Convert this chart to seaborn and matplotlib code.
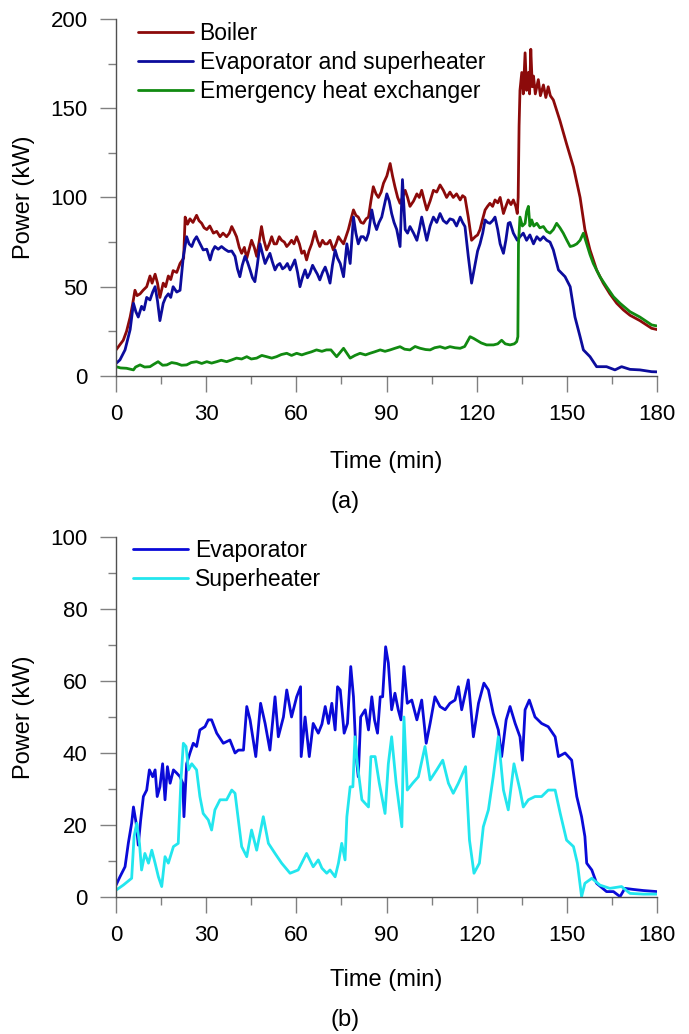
import pandas as pd
import seaborn as sns
import matplotlib.pyplot as plt
from matplotlib.ticker import MultipleLocator

## A. (time in min, power in kW)
boiler = [
    (0, 14.6), (2.4, 20), (3.5, 25), (4.7, 33), (5.5, 40), (6.3, 48), (7, 45), (8, 46), (9, 48),
    (10.2, 50), (11.3, 56), (12, 52), (13, 57), (13.8, 52), (14.6, 44), (15.7, 52), (16.5, 50),
    (17.4, 56), (18.2, 54), (19, 59), (20.2, 58), (21.3, 63), (22.5, 66), (23, 89), (23.8, 85),
    (24.6, 88), (25.6, 86), (26.8, 90), (27.6, 87), (28.5, 85.5), (29.3, 83), (30.2, 82),
    (31.2, 84), (32.4, 80), (33.5, 81), (34.6, 78), (35.6, 80), (36.8, 78), (37.7, 80),
    (38.5, 83.7), (39.3, 81), (40.1, 78), (41, 72), (41.8, 68.7), (42.7, 72), (43.5, 66),
    (44.3, 71), (45.1, 76), (46, 72), (46.8, 67), (47.6, 75), (48.4, 83.7), (49.2, 76),
    (50.1, 70.6), (51, 74), (51.8, 78), (52.6, 74), (53.4, 74), (54.3, 78), (55.1, 76), (56, 75),
    (56.8, 72.5), (57.6, 74), (58.4, 76), (59.2, 74), (60.1, 78), (61, 74), (61.8, 68.7),
    (62.6, 70), (63.4, 65), (64.2, 70), (65.1, 74), (66.2, 81), (67, 76), (67.8, 72.5),
    (68.7, 76), (69.5, 74), (70.3, 74), (71.2, 76), (72.3, 70.6), (73.2, 74), (74, 78),
    (74.8, 76), (75.7, 74), (76.5, 78), (77.3, 82), (78.2, 88), (79, 93), (79.8, 90), (80.6, 89),
    (81.5, 86), (82.3, 85.5), (83.2, 88), (84, 89), (84.8, 98), (85.6, 106), (86.5, 102),
    (87.3, 100), (88.2, 103), (89, 108), (90.1, 112), (91.2, 119), (92, 112), (92.8, 106),
    (93.7, 100), (94.5, 96.7), (95.3, 100), (96.2, 104), (97, 100), (97.8, 95), (99, 98),
    (100.1, 102), (100.9, 100), (101.7, 104), (102.6, 98), (103.4, 93), (104.5, 98),
    (105.6, 104), (106.7, 103), (107.8, 107), (108.9, 104), (110, 100), (111.1, 103),
    (112.2, 100), (113.3, 102), (114.5, 98.6), (115.3, 101), (116.1, 100), (117.2, 89),
    (118.3, 76), (119.5, 78), (120.3, 79), (121.1, 82), (122, 88), (122.8, 93), (123.6, 95),
    (124.4, 96.7), (125.3, 95), (126.1, 98.6), (127, 97), (127.8, 100), (128.9, 91),
    (129.7, 95), (130.5, 98.6), (131.4, 96), (132.2, 98.6), (133, 95), (133.5, 91),
    (133.8, 100), (134.1, 140), (134.4, 160), (135, 170), (135.5, 158), (136.1, 181),
    (136.6, 160), (137.2, 170), (137.6, 158), (138, 183), (138.5, 162), (138.9, 168),
    (139.5, 158), (140.5, 166), (141.2, 157), (142.2, 163), (143, 156), (143.8, 162),
    (144.5, 157), (145.5, 154.6), (147.7, 143), (149.9, 130), (152.2, 117), (154.4, 100),
    (156, 82), (157.7, 70.6), (159.9, 59.4), (162.1, 52), (164.3, 46), (166.6, 40.7),
    (168.8, 37), (171, 34), (174.3, 31), (178.2, 26.7), (180, 26),
]

evap_superheater = [
    (0, 7), (1.3, 9), (3, 14.6), (4.7, 26), (5.8, 40.7), (6.6, 36), (7.4, 33), (8.5, 39),
    (9.3, 37), (10.2, 44), (11.3, 42.6), (12.2, 47), (13, 50), (13.8, 42), (14.6, 31),
    (15.7, 40.7), (16.5, 44), (17.4, 46), (18.2, 44), (19, 50), (20.2, 47), (21.3, 48),
    (22.4, 67), (23.5, 78), (24.3, 74), (25.2, 72.5), (26, 76), (26.8, 78), (28, 74),
    (29, 70.6), (30.2, 71), (31.3, 65), (32.1, 70), (32.9, 72.5), (34, 71), (35.1, 72.5),
    (36.2, 71), (37.4, 69.7), (38.5, 70), (39.6, 67), (40.4, 60), (41.2, 55.6), (42, 62),
    (42.9, 67), (43.7, 64), (44.6, 59.4), (45.4, 55), (46.2, 52.8), (47, 62), (47.9, 74),
    (48.8, 68), (49.6, 63), (50.4, 66), (51.2, 68.7), (52, 64), (52.9, 59.4), (53.7, 62),
    (54.5, 63), (55.4, 60), (56.2, 61), (57, 63), (57.9, 59.4), (58.7, 62), (59.5, 65),
    (60.4, 58), (61.2, 50), (62, 55), (62.9, 59.4), (63.7, 55), (64.5, 57.5), (65.4, 62),
    (66.2, 59.4), (67, 57), (67.8, 53.8), (68.7, 58), (69.6, 61), (70.4, 57), (71.2, 52),
    (72, 62), (72.9, 70.6), (73.7, 66), (74.6, 63), (75.7, 55.6), (76.8, 74), (77.9, 63),
    (79, 89), (79.8, 80), (80.6, 74), (81.5, 78), (82.3, 78), (83.2, 76), (84, 80), (85.1, 93),
    (85.9, 86), (86.7, 82), (87.5, 86), (88.4, 89), (89.2, 95), (90.1, 102), (90.9, 98),
    (91.7, 91), (92.5, 86), (93.4, 82), (94.5, 72.5), (95.3, 110), (96.2, 82), (97, 80),
    (97.8, 83.7), (99, 80), (100.1, 76), (100.9, 82), (101.7, 89), (102.6, 82), (103.4, 76),
    (104.5, 84), (105.6, 89), (106.7, 86), (107.8, 91), (108.9, 87), (110, 85.5), (111.1, 88),
    (112.2, 87.4), (113.3, 84), (114.5, 89), (115.3, 86), (116.1, 83.7), (117.2, 67),
    (118.3, 52), (119.5, 63), (120.3, 70), (121.1, 74), (122, 80), (122.8, 87.4), (123.6, 86),
    (124.4, 85.5), (125.3, 87), (126.1, 89), (127, 82), (127.8, 74), (128.9, 68.7),
    (129.7, 76), (130.5, 85.5), (131.1, 86), (132.2, 80), (133.5, 76), (134.4, 78),
    (135.5, 80), (136.6, 76), (137.7, 79), (138.9, 74), (140, 78), (141.1, 76), (142.2, 78),
    (143.3, 76), (144.4, 75), (145.5, 70.6), (147.2, 59.4), (149.4, 55.6), (151.1, 50),
    (152.7, 33), (154.4, 22), (155.5, 14.6), (157.7, 10.8), (159.9, 5.2), (163.2, 5.2),
    (166, 3.4), (168.2, 5.2), (171, 3.7), (174.3, 3.4), (178.2, 2.4), (180, 2.3),
]

emergency_hx = [
    (0, 5.2), (1.5, 4.5), (3.5, 4.3), (5.8, 3.4), (6.5, 5), (8, 6.2), (9.5, 5), (11.3, 5.2),
    (12.5, 6.5), (14, 8), (15.5, 6), (16.9, 6.2), (18.5, 7.5), (20.2, 7), (21.8, 6), (23.5, 6.2),
    (25, 7.5), (26.8, 8), (28.5, 7), (30.2, 8), (31.8, 7.2), (33.5, 8), (35, 8.8), (36.8, 8),
    (38.5, 9), (40.1, 10), (41.8, 9.5), (43.5, 10.8), (45, 9.5), (46.8, 10), (48.5, 11.5),
    (50.1, 10.8), (51.8, 10), (53.4, 10.8), (55, 12), (56.8, 12.7), (58.4, 11.5), (60.1, 12.7),
    (61.8, 11.8), (63.4, 12.7), (65, 13.5), (66.7, 14.6), (68.5, 13.8), (70, 14.6),
    (71.5, 14.6), (73.4, 10.8), (75.7, 15.5), (77.9, 10), (79.5, 11.5), (81.2, 12.7),
    (83, 11.8), (84.5, 12.7), (86, 13.5), (87.9, 14.6), (89.5, 13.8), (91.2, 14.6),
    (92.8, 15.5), (94.5, 16.4), (96, 15), (97.8, 14.6), (99.5, 16.5), (101.2, 15.5),
    (103, 14.8), (104.5, 14.6), (106, 15.8), (107.8, 16.4), (109.5, 15.5), (111.1, 16.4),
    (112.8, 15.8), (114.5, 15.5), (116, 16.5), (117.8, 22), (119, 21), (120, 20), (121.5, 18.5),
    (123.3, 17.4), (125.6, 17.4), (127, 18), (128.3, 20), (129.5, 18), (131.1, 17.4),
    (132.5, 18), (133.3, 19.2), (133.7, 22), (133.9, 74), (134.4, 89), (135.2, 84),
    (136.1, 85.5), (136.6, 92), (137.2, 95), (137.7, 84), (138.3, 87.4), (139, 84),
    (140, 85.5), (141, 83), (142.2, 83.7), (143.3, 81), (144.4, 80), (145.5, 82),
    (146.6, 85.5), (147.7, 83), (148.8, 80), (150, 76), (151.1, 72.5), (152.2, 73),
    (153.3, 74), (154.4, 76), (155.5, 80), (156.6, 74), (157.7, 68), (158.8, 63), (161, 55.6),
    (163.2, 50), (165.5, 44.4), (167.7, 40.7), (171, 36), (174.3, 33), (178.2, 28.6), (180, 28),
]

evaporator = [
    (0, 3.3), (1.3, 5.6), (3, 8.4), (4.1, 15), (5.2, 20.5), (5.8, 25), (6.7, 20.5), (7.4, 14.4),
    (8.2, 21.4), (9.1, 27.9), (10.2, 29.7), (11.1, 35.3), (12.2, 33.4), (13, 35.3),
    (13.7, 27.9), (14.6, 30.6), (15.5, 37), (16.3, 27), (17.1, 36.2), (18, 31.6), (19.1, 35.3),
    (20.2, 34.4), (21.3, 33.4), (22.2, 31.6), (22.6, 22.3), (23.5, 37), (24.6, 40),
    (25.7, 42.7), (26.8, 41.8), (27.9, 46.4), (29.6, 47.3), (30.7, 49.2), (31.8, 49.2),
    (33.5, 45.5), (35.7, 42.7), (37.9, 43.6), (39.6, 40), (40.7, 40.8), (42.4, 40.8),
    (43.5, 52.9), (44.6, 49.2), (46.5, 39), (48.1, 53.8), (49.6, 48.2), (51.2, 40.8),
    (52.9, 55.6), (54, 44.5), (55.7, 50), (56.8, 57.5), (58.4, 50), (60.1, 55.6), (61.4, 58.4),
    (61.6, 39), (62.9, 50), (64.3, 39), (65.6, 48.2), (67.3, 45.5), (68.5, 48), (69.6, 52.9),
    (70.7, 48.2), (71.8, 53.8), (72.9, 46.4), (73.7, 58.4), (74.6, 57.5), (75.9, 45.5),
    (77, 48.2), (78.1, 64), (79, 55.6), (79.9, 39), (80.6, 33.4), (81.4, 50), (82.9, 52),
    (84, 46.4), (85.1, 55.6), (86, 49.2), (87, 45.5), (87.9, 55.6), (88.7, 55.6), (89.7, 69.5),
    (90.6, 65), (91.7, 52), (92.8, 56.6), (93.9, 52), (94.8, 49.2), (95.8, 64), (96.9, 53.8),
    (98.4, 54.7), (100.1, 49.2), (101.7, 54.7), (103.2, 42.7), (104.5, 48.2), (106.1, 55.6),
    (107.8, 52.9), (109.5, 52), (111.1, 53.8), (112.8, 54.7), (113.9, 58.4), (115, 52),
    (117.2, 60.3), (118.9, 44.5), (120.6, 53.8), (122.4, 59.4), (123.9, 57.5), (125.5, 51),
    (127.2, 46.4), (128.3, 39), (129.8, 49.2), (131.1, 52.9), (132.8, 48.2), (134.4, 44.5),
    (135.2, 38), (136.1, 52), (137.5, 54.7), (139.4, 50), (141.6, 48.2), (143.8, 47.3),
    (146.1, 44.5), (147.2, 39), (149.4, 40), (151.6, 38), (153.3, 27.9), (154.9, 22.3),
    (156, 16.8), (156.6, 9.4), (158.3, 7.5), (159.9, 3.8), (163.2, 1.5), (165.5, 1.5),
    (167.7, 0.1), (169.3, 2.4), (172.1, 2.1), (175.4, 1.8), (180, 1.5),
]

superheater = [
    (0, 1.9), (2.4, 3.3), (5.2, 5.2), (6, 16.8), (6.9, 20.5), (7.8, 14.9), (8.5, 7.5),
    (9.6, 12.1), (10.8, 9.4), (11.9, 13), (13, 9.4), (14.1, 5.6), (15.2, 2.9), (16.3, 11.2),
    (17.4, 9.4), (19.1, 14), (20.7, 14.9), (21.6, 32.5), (22.4, 42.7), (23.3, 41.8),
    (24.1, 35.3), (25.2, 37), (26.8, 35.3), (27.9, 27.9), (29, 23.2), (30.7, 21.4),
    (31.8, 18.6), (32.9, 24.2), (34.6, 27), (36.8, 27), (38.5, 29.7), (39.6, 28.8),
    (40.7, 21.4), (41.8, 14), (43.5, 11.2), (45.1, 18.6), (46.8, 13), (49, 22.3), (50.7, 14.9),
    (52.9, 12.1), (55.1, 9.4), (57.9, 6.6), (60.6, 7.5), (63.4, 12.1), (65.6, 8.4),
    (67.3, 10.3), (68.5, 8), (70.1, 6.6), (71.2, 7.5), (72.9, 5.6), (74, 9.4), (75.1, 14.9),
    (76.2, 10.3), (76.8, 22.3), (77.9, 30.6), (78.8, 30.6), (79.5, 44.5), (80.3, 37),
    (81.8, 27), (84, 25), (84.8, 39), (86.2, 39), (87.6, 31.6), (89.5, 23.2), (90.6, 37),
    (91.7, 44.5), (93.2, 31.6), (95.1, 19.5), (95.8, 50), (96.9, 29.7), (98.7, 31.6),
    (100.6, 33.4), (102.8, 41.8), (104.5, 32.5), (106.7, 35.3), (108.7, 38), (110.6, 31.6),
    (112.2, 28.8), (113.9, 31.6), (116.3, 36.2), (117.6, 15.8), (119.1, 6.6), (120.9, 9.4),
    (122.2, 19.5), (123.9, 24.2), (125.5, 33.4), (127.2, 44.5), (128.9, 29.7), (130.5, 24.2),
    (132.4, 37), (134.4, 29.7), (135.5, 25), (137.2, 27), (139.4, 27.9), (141.6, 27.9),
    (143.8, 29.7), (146.1, 29.7), (147.8, 23.2), (149.9, 15.8), (152.2, 14), (153.5, 9.4),
    (154.9, 0.1), (156, 3.8), (158.3, 5.2), (161, 3.3), (164.3, 2.4), (168.2, 2.9), (171, 1),
    (175.4, 0.8), (180, 0.8),
]

panel_a = [("Boiler", boiler, "#8c0a0a"),
           ("Evaporator and superheater", evap_superheater, "#0c0c9c"),
           ("Emergency heat exchanger", emergency_hx, "#118a11")]
panel_b = [("Evaporator", evaporator, "#0a0ad8"),
           ("Superheater", superheater, "#22e6ee")]


def to_df(pts):
    return pd.DataFrame(pts, columns=["time", "power"])


## B. Figure
sns.set_style("ticks")
plt.rcParams['font.family'] = ['Liberation Sans', 'DejaVu Sans']
plt.rcParams['text.color'] = 'black'
plt.rcParams['axes.labelcolor'] = 'black'
plt.rcParams['xtick.labelcolor'] = 'black'
plt.rcParams['ytick.labelcolor'] = 'black'

fig = plt.figure(figsize=(6.89, 10.34), dpi=100)
ax1 = fig.add_axes([0.1684, 0.6364, 0.7852, 0.3453])
ax2 = fig.add_axes([0.1684, 0.1325, 0.7852, 0.3482])


def draw_panel(ax, series, ymax, ystep, xlab_y, leg_x, leg_y):
    for name, pts, col in series:
        sns.lineplot(data=to_df(pts), x="time", y="power", color=col, lw=2.0,
                     label=name, ax=ax, sort=False, estimator=None)
    ax.set_xlim(0, 180)
    ax.set_ylim(0, ymax)
    ax.xaxis.set_major_locator(MultipleLocator(30))
    ax.xaxis.set_minor_locator(MultipleLocator(15))
    ax.yaxis.set_major_locator(MultipleLocator(ystep))
    ax.yaxis.set_minor_locator(MultipleLocator(ystep / 2))
    for s in ["top", "right"]:
        ax.spines[s].set_visible(False)
    for s in ["left", "bottom"]:
        ax.spines[s].set_color("#505050")
        ax.spines[s].set_linewidth(1.0)
    ax.tick_params(which="major", length=11.5, width=1, color="#808080",
                   labelsize=16, pad=9, labelcolor="black")
    ax.tick_params(which="minor", length=5.8, width=1, color="#808080")
    ax.set_xlabel("Time (min)", fontsize=17, color="black")
    ax.set_ylabel("Power (kW)", fontsize=17, color="black")
    ax.xaxis.set_label_coords(0.5, xlab_y)
    ax.yaxis.set_label_coords(-0.15, 0.5)
    leg = ax.legend(loc="upper left", bbox_to_anchor=(leg_x, leg_y), frameon=False,
                    fontsize=16.5, handlelength=2.4, handletextpad=0.3,
                    labelspacing=0.27, borderpad=0, borderaxespad=0)
    for txt in leg.get_texts():
        txt.set_color("black")


draw_panel(ax1, panel_a, 200, 50, -0.21, 0.04, 0.992)
draw_panel(ax2, panel_b, 100, 20, -0.2, 0.031, 0.994)

fig.text(0.5007, 0.5145, "(a)", ha="center", va="center", fontsize=17, color="black")
fig.text(0.5007, 0.0135, "(b)", ha="center", va="center", fontsize=17, color="black")

plt.savefig("out.png", dpi=100)
